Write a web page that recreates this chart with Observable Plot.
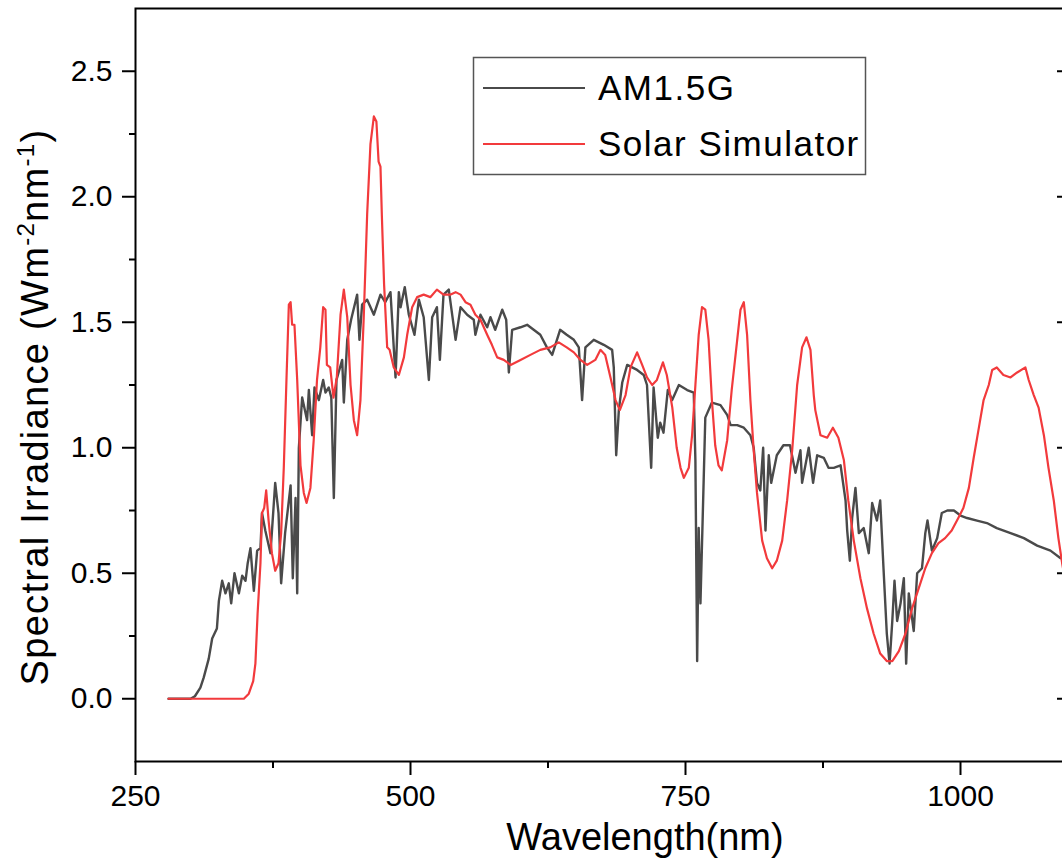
<!DOCTYPE html>
<html>
<head>
<meta charset="utf-8">
<script src="https://cdn.jsdelivr.net/npm/d3@7"></script>
<script src="https://cdn.jsdelivr.net/npm/@observablehq/plot@0.6"></script>
<style>
  html, body { margin: 0; padding: 0; background: white; overflow: hidden; }
  #chart { width: 1062px; height: 863px; overflow: hidden; position: relative; }
  #chart svg { max-width: none !important; width: 1080px !important; height: 863px !important; display: block; }
</style>
</head>
<body>
<div id="chart"></div>
<script>
// ---- Data ----
const seriesNames = ["AM1.5G", "Solar Simulator"];

const am15Wavelength = [280,300,304,309,312,316.6,319.7,324,325.8,328.8,331.8,334.8,337,340,344,347,350,352,354.5,357.6,360.6,363.6,365,368,372.7,377,380,382.4,386,391,393,395.5,397,398.5,401.5,406,407.6,410.6,412.7,416.7,420.6,422.7,425.7,428,430.3,432.7,437.9,439.4,442.5,446,451.5,453.6,456,460.6,466.7,472.7,477,481.8,486.4,489.4,491,494.8,498.5,503.6,507.6,512,516.7,519.7,524,526.7,530,534.8,541,545.5,551.5,557.5,559,563.6,569.7,572.7,577,583.4,587,589.4,592.4,600,606,612,618,624,628.8,636,642,648.5,653,656,659,666.6,675.7,683.3,684.8,687,689.4,692.5,697,701.5,706,712,715,718.8,721,724.8,727,730,733.9,737.9,744,751.5,757.5,759,760.6,762,763.6,768,774,781.8,788,791,797,803,809,812,815,818,820.6,822.7,825.7,827.9,833,839,845,850,854.5,856,862,866,869.7,875.7,880,884.8,891,895.5,897,899.4,901.5,904.5,907.6,912,916.6,919.7,924,927,930,933,935.5,938,940,942.4,945.5,948.5,950.6,953,957.5,960.6,965,968,970,974,978.8,983,988,994,1000,1006,1015,1024,1033,1045.5,1057.6,1069.7,1081.8,1091,1100];
const am15Irradiance = [0,0,0.01,0.044,0.084,0.16,0.24,0.28,0.39,0.47,0.42,0.46,0.38,0.50,0.42,0.49,0.47,0.54,0.60,0.43,0.59,0.60,0.74,0.67,0.58,0.86,0.74,0.46,0.66,0.85,0.48,0.80,0.42,1.00,1.20,1.11,1.23,1.05,1.24,1.19,1.27,1.22,1.24,1.20,0.80,1.27,1.35,1.18,1.43,1.51,1.61,1.43,1.57,1.59,1.53,1.61,1.58,1.62,1.28,1.62,1.56,1.64,1.53,1.45,1.59,1.52,1.27,1.52,1.56,1.35,1.61,1.63,1.43,1.56,1.53,1.51,1.45,1.53,1.48,1.52,1.47,1.55,1.51,1.30,1.47,1.48,1.49,1.47,1.45,1.40,1.37,1.47,1.45,1.43,1.40,1.19,1.40,1.43,1.41,1.39,1.32,0.97,1.15,1.26,1.33,1.32,1.31,1.29,1.25,0.92,1.24,1.04,1.10,1.06,1.23,1.19,1.25,1.23,1.22,0.95,0.15,0.68,0.38,1.12,1.18,1.17,1.13,1.09,1.09,1.08,1.05,1.00,0.86,0.83,1.00,0.67,0.97,0.86,0.97,1.01,1.01,0.90,0.99,0.86,1.00,0.86,0.97,0.96,0.92,0.92,0.93,0.79,0.67,0.55,0.72,0.84,0.66,0.68,0.58,0.78,0.71,0.79,0.52,0.26,0.14,0.31,0.47,0.31,0.38,0.48,0.14,0.42,0.27,0.50,0.52,0.66,0.71,0.59,0.64,0.74,0.75,0.75,0.73,0.72,0.71,0.70,0.68,0.66,0.64,0.61,0.59,0.56,0.55];

const simWavelength = [280,348.5,353,357,359,361,363.6,365,367,368.8,371,374,377,380,382.4,384.8,387.3,389.4,391,392.4,394.5,397,400,403,405.5,409,412,415,418,420.6,422.7,424,427,430,433,436.4,439.4,442.5,445.5,448.5,451.5,454.5,457.5,460.6,463.6,466.7,469,471,472.7,474,476,478.8,481,484.8,489.4,494,497,501.5,506,512,518,524,530,536,541,545.5,550,554.5,559,563.6,569.7,574,578.8,584.8,591,600,609,618,627,634.8,642,648.5,654.5,660.6,668,672.7,677,681.8,686.4,690.3,695.5,700,706,710.6,715,719.7,724,729.5,733,738,742,745.5,748.5,753,756,759,762,765,768,771,774,777,780,783,787.9,792,797,800,803,806,809,812,815,819.7,824,828.8,833,837.9,842.4,847,851.5,856,860,863.6,866.6,868,872.7,878.8,884,889,894,898,903,909,915,921,927,933,938,944,950,956,962,968,974,980,986,992,998,1002.6,1007.6,1012,1016.7,1021,1025.7,1028.8,1033,1039,1045.5,1051.5,1059,1062,1066.6,1071,1075.8,1080,1084.8,1089,1092.4,1100];
const simIrradiance = [0,0,0.02,0.07,0.14,0.34,0.54,0.74,0.76,0.83,0.71,0.58,0.51,0.54,0.66,0.92,1.28,1.57,1.58,1.49,1.49,1.27,0.93,0.82,0.78,0.84,1.03,1.27,1.40,1.56,1.55,1.33,1.32,1.20,1.28,1.53,1.63,1.52,1.25,1.11,1.05,1.19,1.52,1.93,2.21,2.32,2.30,2.14,2.12,1.92,1.65,1.40,1.39,1.32,1.29,1.36,1.45,1.56,1.60,1.61,1.60,1.63,1.61,1.61,1.62,1.61,1.58,1.57,1.53,1.51,1.45,1.41,1.36,1.35,1.33,1.35,1.37,1.39,1.40,1.42,1.40,1.38,1.35,1.33,1.35,1.39,1.37,1.28,1.19,1.15,1.21,1.32,1.38,1.33,1.28,1.25,1.27,1.34,1.29,1.16,1.00,0.92,0.88,0.92,1.05,1.25,1.45,1.56,1.55,1.43,1.19,1.01,0.93,0.91,1.03,1.23,1.43,1.55,1.58,1.45,1.19,0.99,0.82,0.63,0.56,0.52,0.55,0.63,0.79,0.99,1.25,1.40,1.44,1.39,1.21,1.15,1.05,1.04,1.08,1.04,0.95,0.79,0.63,0.48,0.36,0.26,0.18,0.15,0.15,0.19,0.26,0.36,0.44,0.52,0.58,0.62,0.64,0.67,0.72,0.76,0.84,0.96,1.08,1.19,1.25,1.31,1.32,1.29,1.28,1.30,1.32,1.27,1.21,1.16,1.05,0.92,0.79,0.64,0.54,0.35];

const xMajorTicks = [250, 500, 750, 1000];
const xMinorTicks = [375, 625, 875];
const yMajorTicks = [0, 0.5, 1.0, 1.5, 2.0, 2.5];
const yMinorTicks = [0.25, 0.75, 1.25, 1.75, 2.25];

// ---- Build tables ----
const am15 = am15Wavelength.map((w, i) => ({wl: w, v: am15Irradiance[i], s: seriesNames[0]}));
const sim = simWavelength.map((w, i) => ({wl: w, v: simIrradiance[i], s: seriesNames[1]}));

const colors = {"AM1.5G": "#4a4a4a", "Solar Simulator": "#f23a3c"};
const FONT = "'Liberation Sans', Arial, Helvetica, sans-serif";

const chart = Plot.plot({
  width: 1080,
  height: 863,
  marginLeft: 135,
  marginRight: 10,
  marginTop: 8,
  marginBottom: 102,
  style: {fontFamily: FONT, background: "white", color: "black", overflow: "visible"},
  x: {domain: [250, 1100]},
  y: {domain: [-0.25, 2.75]},
  marks: [
    Plot.line(am15, {x: "wl", y: "v", stroke: colors["AM1.5G"], strokeWidth: 2.4, strokeLinejoin: "round"}),
    Plot.line(sim, {x: "wl", y: "v", stroke: colors["Solar Simulator"], strokeWidth: 2.2, strokeLinejoin: "round"}),
    Plot.axisY({anchor: "left", ticks: yMajorTicks, tickSize: 13, tickPadding: 10, strokeWidth: 2,
      tickFormat: d => d.toFixed(1), fontSize: 30, label: null}),
    Plot.axisY({anchor: "left", ticks: yMinorTicks, tickSize: 6, strokeWidth: 2,
      tickFormat: () => "", label: null}),
    Plot.ruleY(yMajorTicks, {insetLeft: 922, stroke: "black", strokeWidth: 2}),
    Plot.axisX({anchor: "bottom", ticks: xMajorTicks, tickSize: 14, tickPadding: 9, strokeWidth: 2,
      tickFormat: d => String(d), fontSize: 30, label: null}),
    Plot.axisX({anchor: "bottom", ticks: xMinorTicks, tickSize: 7, strokeWidth: 2,
      tickFormat: () => "", label: null}),
    Plot.frame({stroke: "black", strokeWidth: 2})
  ]
});

chart.style.maxWidth = "none";
document.getElementById("chart").appendChild(chart);

// ---- Titles and legend ----
const svg = d3.select(chart);

svg.append("text")
  .attr("x", 645).attr("y", 850)
  .attr("text-anchor", "middle")
  .attr("font-family", FONT).attr("font-size", 38)
  .attr("fill", "black")
  .text("Wavelength(nm)");

const yt = svg.append("text")
  .attr("transform", "translate(48,407) rotate(-90)")
  .attr("text-anchor", "middle")
  .attr("font-family", FONT).attr("font-size", 38)
  .attr("letter-spacing", "1.3px")
  .attr("fill", "black");
yt.append("tspan").text("Spectral Irradiance (Wm");
yt.append("tspan").attr("font-size", 24).attr("dy", -14).text("-2");
yt.append("tspan").attr("dy", 14).text("nm");
yt.append("tspan").attr("font-size", 24).attr("dy", -14).text("-1");
yt.append("tspan").attr("dy", 14).text(")");

const lg = svg.append("g");
lg.append("rect")
  .attr("x", 473.5).attr("y", 57.5).attr("width", 392).attr("height", 117)
  .attr("fill", "white").attr("stroke", "#555").attr("stroke-width", 1.5);
seriesNames.forEach((name, i) => {
  const y = 88 + i * 56;
  lg.append("line")
    .attr("x1", 483).attr("x2", 585).attr("y1", y).attr("y2", y)
    .attr("stroke", colors[name]).attr("stroke-width", 2);
  lg.append("text")
    .attr("x", 598).attr("y", y + 12)
    .attr("text-anchor", "start")
    .attr("font-family", FONT).attr("font-size", 35)
    .attr("letter-spacing", "1.5px")
    .attr("fill", "black")
    .text(name);
});
</script>
</body>
</html>
